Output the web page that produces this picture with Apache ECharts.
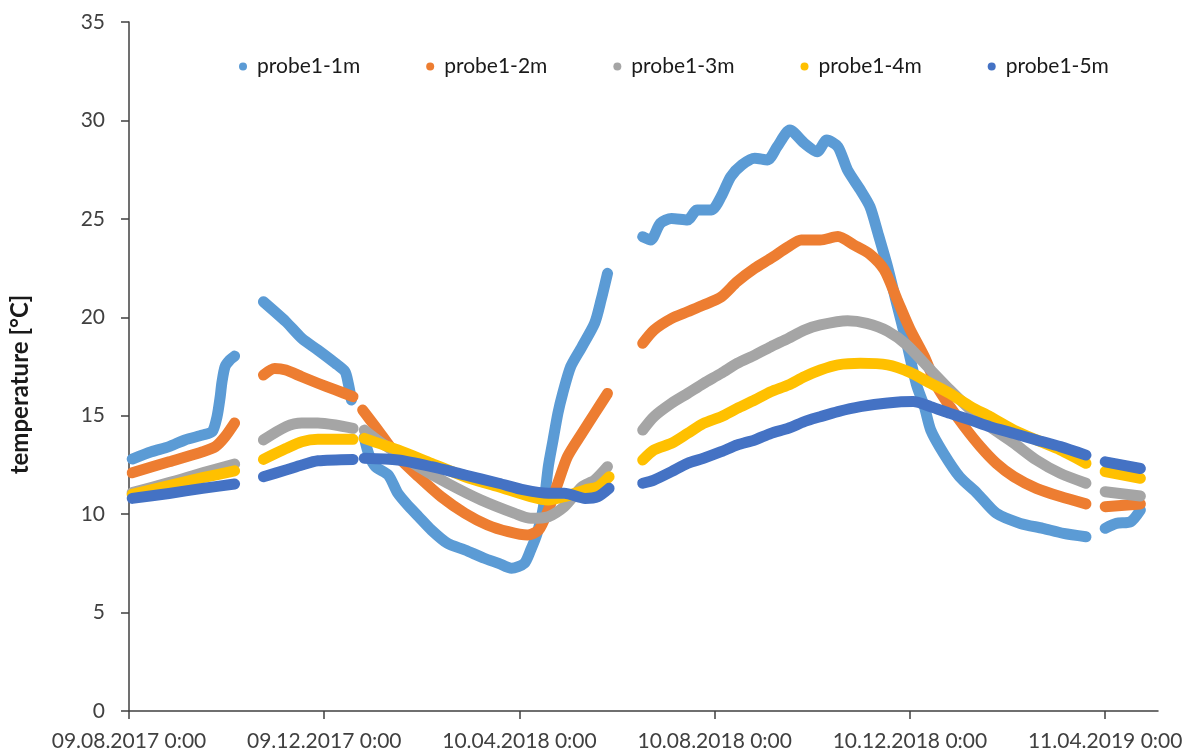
<!DOCTYPE html>
<html>
<head>
<meta charset="utf-8">
<script src="https://cdn.jsdelivr.net/npm/echarts@6/dist/echarts.min.js"></script>
<style>
html, body { margin: 0; padding: 0; background: #fff; }
#chart { width: 1187px; height: 752px; }
</style>
</head>
<body>
<div id="chart"></div>
<script>
// x = days since 09.08.2017 0:00, y = temperature in °C, one sub-array per logging segment
var probeNames = ['probe1-1m', 'probe1-2m', 'probe1-3m', 'probe1-4m', 'probe1-5m'];
var probeColors = ['#5B9BD5', '#ED7D31', '#A5A5A5', '#FFC000', '#4472C4'];
var tickDays = [0, 122, 244, 366, 488, 610];

var probe1_1m = [
	[[2, 12.8], [14, 13.17], [25, 13.43], [35, 13.77], [46, 14.02], [52, 14.19], [55, 14.95], [57, 15.97], [58, 16.66], [60, 17.49], [63, 17.83], [66, 18.03]],
	[[84, 20.79], [98, 19.78], [108, 18.93], [118, 18.34], [129, 17.66], [135, 17.24], [137, 16.65], [139, 15.8]],
	[[147, 13.9], [150, 13.0], [154, 12.41], [162, 11.99], [168, 11.06], [175, 10.38], [181, 9.87], [189, 9.19], [199, 8.52], [210, 8.18], [222, 7.76], [231, 7.5], [239, 7.25], [247, 7.5], [251, 8.18], [255, 9.02], [259, 10.38], [262, 12.41], [265, 13.77], [268, 15.12], [271, 16.13], [276, 17.49], [283, 18.5], [291, 19.7], [295, 20.88], [299, 22.23]],
	[[321, 24.09], [326, 23.93], [332, 24.77], [339, 25.02], [349, 24.94], [355, 25.45], [364, 25.45], [370, 26.13], [376, 27.14], [383, 27.74], [391, 28.08], [399, 27.99], [405, 28.66], [413, 29.51], [422, 28.84], [430, 28.41], [436, 29.0], [443, 28.66], [449, 27.48], [457, 26.47], [463, 25.62], [468, 24.27], [474, 22.57], [480, 20.6], [486, 18.68], [492, 16.6], [497, 15.46], [501, 14.27], [509, 13.09], [519, 11.9], [530, 11.06], [542, 10.04], [557, 9.53], [571, 9.28], [584, 9.02], [598, 8.85]],
	[[610, 9.28], [617, 9.53], [626, 9.62], [632, 10.21]]
];
var probe1_2m = [
	[[2, 12.1], [25, 12.66], [46, 13.17], [54, 13.43], [60, 13.93], [66, 14.63]],
	[[84, 17.07], [91, 17.4], [98, 17.32], [108, 16.98], [118, 16.65], [129, 16.31], [140, 15.97]],
	[[146, 15.29], [154, 14.44], [168, 12.92], [181, 11.9], [195, 10.89], [210, 10.04], [224, 9.45], [237, 9.11], [249, 8.94], [256, 9.19], [262, 10.21], [268, 11.57], [274, 12.92], [283, 14.1], [291, 15.12], [299, 16.13]],
	[[321, 18.68], [328, 19.35], [339, 19.94], [349, 20.28], [359, 20.62], [370, 21.03], [380, 21.81], [391, 22.49], [401, 22.99], [412, 23.58], [420, 23.93], [432, 23.93], [443, 24.1], [453, 23.67], [463, 23.2], [472, 22.4], [480, 20.9], [488, 19.4], [497, 18.0], [505, 16.47], [513, 15.46], [522, 14.44], [532, 13.43], [542, 12.58], [553, 11.9], [567, 11.31], [582, 10.89], [598, 10.52]],
	[[610, 10.38], [632, 10.52]]
];
var probe1_3m = [
	[[2, 11.1], [25, 11.6], [46, 12.1], [66, 12.55]],
	[[84, 13.77], [98, 14.44], [108, 14.63], [118, 14.63], [129, 14.53], [140, 14.36]],
	[[147, 14.27], [158, 13.6], [181, 12.41], [199, 11.57], [220, 10.72], [241, 10.04], [251, 9.79], [262, 9.87], [272, 10.38], [283, 11.39], [291, 11.73], [299, 12.41]],
	[[321, 14.27], [328, 14.95], [339, 15.63], [349, 16.13], [359, 16.64], [370, 17.15], [380, 17.66], [391, 18.08], [401, 18.5], [412, 18.93], [422, 19.35], [432, 19.61], [449, 19.82], [461, 19.69], [474, 19.3], [486, 18.6], [501, 17.32], [513, 16.31], [526, 15.29], [538, 14.44], [553, 13.6], [567, 12.75], [582, 12.07], [598, 11.57]],
	[[610, 11.14], [632, 10.92]]
];
var probe1_4m = [
	[[2, 11.0], [25, 11.45], [46, 11.85], [66, 12.2]],
	[[84, 12.78], [98, 13.33], [108, 13.68], [118, 13.8], [140, 13.8]],
	[[147, 13.85], [168, 13.26], [189, 12.58], [210, 11.9], [231, 11.39], [251, 10.89], [262, 10.72], [272, 10.89], [285, 11.23], [293, 11.39], [300, 11.9]],
	[[321, 12.75], [328, 13.26], [339, 13.6], [349, 14.1], [359, 14.61], [370, 14.95], [380, 15.37], [391, 15.8], [401, 16.22], [412, 16.56], [422, 16.98], [432, 17.32], [443, 17.58], [457, 17.66], [474, 17.58], [488, 17.2], [501, 16.64], [513, 16.13], [526, 15.46], [538, 14.95], [553, 14.27], [567, 13.77], [582, 13.26], [598, 12.58]],
	[[610, 12.16], [632, 11.82]]
];
var probe1_5m = [
	[[2, 10.8], [25, 11.05], [46, 11.31], [66, 11.53]],
	[[84, 11.9], [98, 12.24], [108, 12.5], [118, 12.71], [140, 12.78]],
	[[147, 12.84], [168, 12.75], [189, 12.41], [210, 11.99], [231, 11.57], [247, 11.23], [262, 11.06], [272, 11.06], [285, 10.8], [293, 10.89], [300, 11.31]],
	[[321, 11.57], [328, 11.73], [339, 12.16], [349, 12.58], [359, 12.84], [370, 13.17], [380, 13.51], [391, 13.77], [401, 14.1], [412, 14.36], [422, 14.7], [432, 14.95], [443, 15.21], [457, 15.46], [474, 15.65], [490, 15.72], [501, 15.46], [513, 15.12], [526, 14.78], [538, 14.44], [553, 14.1], [567, 13.77], [582, 13.43], [598, 13.0]],
	[[610, 12.66], [632, 12.32]]
];
var probeData = [probe1_1m, probe1_2m, probe1_3m, probe1_4m, probe1_5m];

// join segments, with an empty point between them so the line breaks
function joinSegments(segs) {
	var out = [];
	for (var i = 0; i < segs.length; i++) {
		if (i > 0) out.push([segs[i][0][0] - 1, '-']);
		out = out.concat(segs[i]);
	}
	return out;
}

function dayLabel(v) {
	var d = new Date(Date.UTC(2017, 7, 9) + v * 86400000);
	var dd = ('0' + d.getUTCDate()).slice(-2);
	var mm = ('0' + (d.getUTCMonth() + 1)).slice(-2);
	return dd + '.' + mm + '.' + d.getUTCFullYear() + ' 0:00';
}

var chart = echarts.init(document.getElementById('chart'));
var font = 'Lato, "Open Sans", sans-serif';
var axisColor = '#404040';

var series = [];
for (var i = 0; i < probeNames.length; i++) {
	series.push({
		name: probeNames[i],
		type: 'line',
		data: joinSegments(probeData[i]),
		showSymbol: false,
		symbol: 'circle',
		smooth: 0.25,
		connectNulls: false,
		itemStyle: { color: probeColors[i] },
		lineStyle: { width: 11, color: probeColors[i], cap: 'round', join: 'round' }
	});
}

var option = {
	animation: false,
	backgroundColor: '#fff',
	grid: { left: 127, right: 29, top: 22, bottom: 41 },
	legend: {
		top: 51,
		left: 234,
		icon: 'circle',
		itemWidth: 18,
		itemHeight: 8,
		itemGap: 66,
		textStyle: { fontFamily: font, fontSize: 21, color: '#1a1a1a' },
		data: probeNames
	},
	xAxis: {
		type: 'value',
		min: 0,
		max: 643,
		interval: 122,
		splitLine: { show: false },
		axisLine: { lineStyle: { color: axisColor, width: 1.5 } },
		axisTick: { length: 8, lineStyle: { color: axisColor, width: 1.5 }, customValues: tickDays },
		axisLabel: {
			customValues: tickDays,
			margin: 20,
			fontFamily: font,
			fontSize: 21,
			color: axisColor,
			formatter: dayLabel
		}
	},
	yAxis: {
		type: 'value',
		min: 0,
		max: 35,
		interval: 5,
		name: 'temperature [°C]',
		nameLocation: 'middle',
		nameGap: 97,
		nameTextStyle: { fontFamily: font, fontSize: 24, fontWeight: 'bold', color: '#1a1a1a', padding: [0, 36, 0, 0] },
		splitLine: { show: false },
		axisLine: { show: true, lineStyle: { color: axisColor, width: 1.5 } },
		axisTick: { show: true, length: 8, lineStyle: { color: axisColor, width: 1.5 } },
		axisLabel: { margin: 24, fontFamily: font, fontSize: 21, color: axisColor }
	},
	series: series
};
chart.setOption(option);
</script>
</body>
</html>
